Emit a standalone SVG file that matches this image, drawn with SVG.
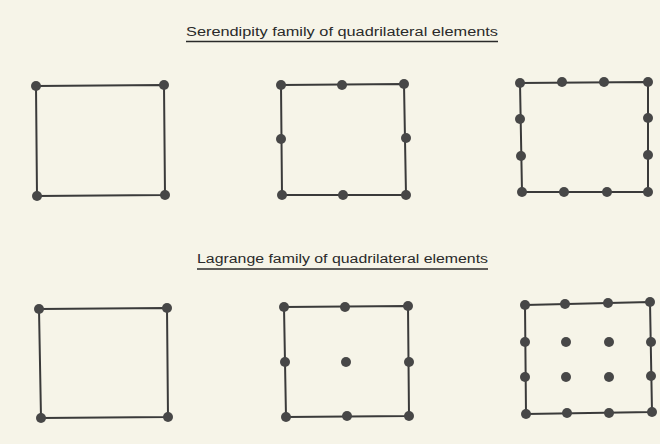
<svg xmlns="http://www.w3.org/2000/svg" width="660" height="444" viewBox="0 0 660 444">
<style>
.bg{fill:#f6f4e8}
.edge{fill:none;stroke:#3a3a3a;stroke-width:2;stroke-linejoin:round}
.n{fill:#474747}
.title{font-family:"Liberation Sans",Arial,sans-serif;font-size:12px;fill:#2a2a2a}
.ul{stroke:#2a2a2a;stroke-width:1.5}
</style>
<rect class="bg" x="0" y="0" width="660" height="444"/>
<g id="title-serendipity">
<text class="title" x="186" y="36" textLength="312" lengthAdjust="spacingAndGlyphs">Serendipity family of quadrilateral elements</text>
<line class="ul" x1="186" y1="41.5" x2="498" y2="41.5"/>
</g>
<g id="title-lagrange">
<text class="title" x="197" y="263" textLength="291" lengthAdjust="spacingAndGlyphs">Lagrange family of quadrilateral elements</text>
<line class="ul" x1="197" y1="269" x2="488" y2="269"/>
</g>
<g id="connectors">
<polygon class="edge" points="36,86 164,85 165,195 37,196"/>
<polygon class="edge" points="281,85 404,84 406,195 282,195"/>
<polygon class="edge" points="520,83 648,82 648,192 522,192"/>
<polygon class="edge" points="39,309 167,308 168,417 41,418"/>
<polygon class="edge" points="284,307 408,306 409,416 286,417"/>
<polygon class="edge" points="525,305 650,302 652,412 526,414"/>
</g>
<g id="serendipity-4">
<circle class="n" cx="36" cy="86" r="5"/><circle class="n" cx="164" cy="85" r="5"/>
<circle class="n" cx="165" cy="195" r="5"/><circle class="n" cx="37" cy="196" r="5"/>
</g>
<g id="serendipity-8">
<circle class="n" cx="281" cy="85" r="5"/><circle class="n" cx="342" cy="85" r="5"/><circle class="n" cx="404" cy="84" r="5"/>
<circle class="n" cx="281" cy="139" r="5"/><circle class="n" cx="406" cy="138" r="5"/>
<circle class="n" cx="282" cy="195" r="5"/><circle class="n" cx="343" cy="195" r="5"/><circle class="n" cx="406" cy="195" r="5"/>
</g>
<g id="serendipity-12">
<circle class="n" cx="520" cy="83" r="5"/><circle class="n" cx="562" cy="82" r="5"/><circle class="n" cx="604" cy="82" r="5"/><circle class="n" cx="648" cy="82" r="5"/>
<circle class="n" cx="520" cy="119" r="5"/><circle class="n" cx="648" cy="118" r="5"/>
<circle class="n" cx="521" cy="156" r="5"/><circle class="n" cx="648" cy="155" r="5"/>
<circle class="n" cx="522" cy="192" r="5"/><circle class="n" cx="564" cy="192" r="5"/><circle class="n" cx="607" cy="192" r="5"/><circle class="n" cx="648" cy="192" r="5"/>
</g>
<g id="lagrange-4">
<circle class="n" cx="39" cy="309" r="5"/><circle class="n" cx="167" cy="308" r="5"/>
<circle class="n" cx="168" cy="417" r="5"/><circle class="n" cx="41" cy="418" r="5"/>
</g>
<g id="lagrange-9">
<circle class="n" cx="284" cy="307" r="5"/><circle class="n" cx="345" cy="307" r="5"/><circle class="n" cx="408" cy="306" r="5"/>
<circle class="n" cx="285" cy="362" r="5"/><circle class="n" cx="346" cy="362" r="5"/><circle class="n" cx="409" cy="362" r="5"/>
<circle class="n" cx="286" cy="417" r="5"/><circle class="n" cx="347" cy="416" r="5"/><circle class="n" cx="409" cy="416" r="5"/>
</g>
<g id="lagrange-16">
<circle class="n" cx="525" cy="305" r="5"/><circle class="n" cx="565" cy="304" r="5"/><circle class="n" cx="608" cy="303" r="5"/><circle class="n" cx="650" cy="302" r="5"/>
<circle class="n" cx="525" cy="342" r="5"/><circle class="n" cx="566" cy="342" r="5"/><circle class="n" cx="609" cy="342" r="5"/><circle class="n" cx="651" cy="342" r="5"/>
<circle class="n" cx="525" cy="377" r="5"/><circle class="n" cx="566" cy="377" r="5"/><circle class="n" cx="609" cy="377" r="5"/><circle class="n" cx="651" cy="376" r="5"/>
<circle class="n" cx="526" cy="414" r="5"/><circle class="n" cx="567" cy="413" r="5"/><circle class="n" cx="609" cy="413" r="5"/><circle class="n" cx="652" cy="412" r="5"/>
</g>
</svg>
